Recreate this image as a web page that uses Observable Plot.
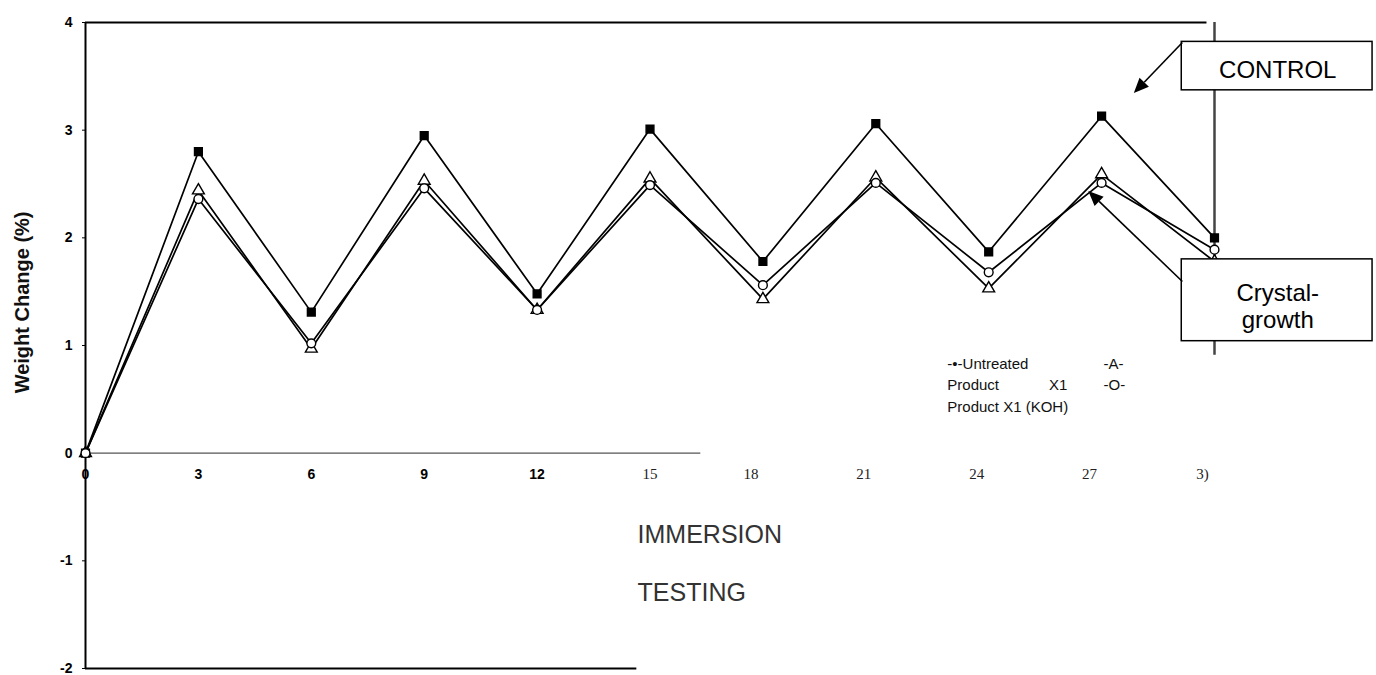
<!DOCTYPE html>
<html><head><meta charset="utf-8">
<script src="https://cdn.jsdelivr.net/npm/d3@7"></script>
<script src="https://cdn.jsdelivr.net/npm/@observablehq/plot@0.6"></script>
<style>
body{margin:0;background:#fff;}
#chart svg{display:block;}
</style></head><body><div id="chart"></div>
<script>
// ---- data ----
const days = [0, 3, 6, 9, 12, 15, 18, 21, 24, 27, 30];
const untreated    = [0, 2.80, 1.31, 2.95, 1.48, 3.01, 1.78, 3.06, 1.87, 3.13, 2.00];
const productX1    = [0, 2.44, 0.97, 2.53, 1.33, 2.55, 1.43, 2.56, 1.53, 2.59, 1.78];
const productX1KOH = [0, 2.36, 1.02, 2.46, 1.33, 2.49, 1.56, 2.51, 1.68, 2.51, 1.89];
const seriesNames = ["Untreated", "Product X1", "Product X1 (KOH)"];
const xTickLabels = ["0", "3", "6", "9", "12", "15", "18", "21", "24", "27", "3)"];
const yTicks = [-2, -1, 0, 1, 2, 3, 4];
const yLabel = "Weight Change (%)";
const legendLines = ["-\u2022-Untreated", "Product", "Product X1 (KOH)"];
const legendExtras = ["-A-", "X1", "-O-"];
const noteLines = ["IMMERSION", "TESTING"];
const callouts = ["CONTROL", "Crystal-", "growth"];

// ---- table for Plot ----
const seriesValues = [untreated, productX1, productX1KOH];
const rows = [];
seriesNames.forEach((s, i) => days.forEach((d, j) => rows.push({series: s, day: d, value: seriesValues[i][j]})));
const ticksTable = days.map((d, i) => ({day: d, label: xTickLabels[i]}));

const font = "'Liberation Sans', Arial, Helvetica, sans-serif";

// arrows with filled heads (annotation, in data units)
const arrows = [
  {x1: 29.16, y1: 3.81, x2: 27.87, y2: 3.34},
  {x1: 29.16, y1: 1.59, x2: 26.66, y2: 2.43}
];
function arrowMark(index, scales) {
  const g = d3.create("svg:g");
  for (const a of arrows) {
    const X1 = scales.x(a.x1), Y1 = scales.y(a.y1), X2 = scales.x(a.x2), Y2 = scales.y(a.y2);
    const ang = Math.atan2(Y2 - Y1, X2 - X1);
    const L = 15, W = 6.5;
    const bx = X2 - L * Math.cos(ang), by = Y2 - L * Math.sin(ang);
    g.append("line").attr("x1", X1).attr("y1", Y1).attr("x2", bx).attr("y2", by)
      .attr("stroke", "black").attr("stroke-width", 1.6);
    const px = -Math.sin(ang) * W, py = Math.cos(ang) * W;
    g.append("path").attr("d", `M${X2},${Y2}L${bx + px},${by + py}L${bx - px},${by - py}Z`).attr("fill", "black");
  }
  return g.node();
}

const chart = Plot.plot({
  width: 1376,
  height: 675,
  marginLeft: 85,
  marginRight: 162,
  marginTop: 22,
  marginBottom: 7,
  style: {fontFamily: font, background: "white", color: "black", overflow: "visible"},
  x: {domain: [0, 30], axis: null},
  y: {domain: [-2, 4], axis: null},
  symbol: {domain: seriesNames, range: ["square", "triangle", "circle"]},
  marks: [
    // frame pieces
    Plot.ruleX([0], {y1: -2, y2: 4, stroke: "black", strokeWidth: 2}),
    Plot.ruleY([4], {x1: 0, x2: 29.8, stroke: "black", strokeWidth: 2}),
    Plot.ruleX([30], {y1: 0.91, y2: 4, stroke: "#444", strokeWidth: 2.5}),
    Plot.ruleY([-2], {x1: 0, x2: 14.65, stroke: "black", strokeWidth: 2}),
    Plot.ruleY([0], {x1: 0, x2: 16.35, stroke: "#555", strokeWidth: 1.2}),
    // y axis
    Plot.axisY(yTicks, {anchor: "left", label: null, tickSize: 3, tickPadding: 10, fontSize: 14, fontWeight: "bold", tickFormat: d => String(d), stroke: "black"}),
    Plot.text([yLabel], {frameAnchor: "left", y: () => 1.4, dx: -63, rotate: -90, textAnchor: "middle", fontSize: 20, fontWeight: "bold", fill: "#111"}),
    // x tick labels
    Plot.text(ticksTable.filter(d => d.day <= 12), {x: "day", y: () => 0, text: "label", dy: 21, fontSize: 14, fontWeight: "bold"}),
    Plot.text(ticksTable.filter(d => d.day === 15), {x: "day", y: () => 0, text: "label", dy: 21, fontSize: 15, fontFamily: "'Liberation Serif', 'Times New Roman', serif", fill: "#222"}),
    Plot.text(ticksTable.filter(d => d.day > 15), {x: "day", y: () => 0, text: "label", dy: 21, dx: -12, fontSize: 15, fontFamily: "'Liberation Serif', 'Times New Roman', serif", fill: "#222"}),
    // series
    Plot.line(rows, {x: "day", y: "value", z: "series", stroke: "black", strokeWidth: 1.7}),
    Plot.dot(rows, {x: "day", y: "value", symbol: "series", r: 4.4, stroke: "black", strokeWidth: 1.4,
      fill: d => d.series === "Untreated" ? "black" : "white"}),
    // legend (in-plot text)
    Plot.text(legendLines, {x: () => 22.9, y: (d, i) => [0.83, 0.63, 0.43][i], text: d => d, textAnchor: "start", fontSize: 15, fill: "#111"}),
    Plot.text(legendExtras, {x: (d, i) => [27.05, 25.6, 27.05][i], y: (d, i) => [0.83, 0.63, 0.63][i], text: d => d, textAnchor: "start", fontSize: 15, fill: "#111"}),
    // IMMERSION TESTING
    Plot.text(noteLines, {x: () => 14.67, y: (d, i) => [-0.76, -1.30][i], text: d => d, textAnchor: "start", fontSize: 25, fill: "#333"}),
    // callout boxes
    Plot.rect([0, 1], {x1: () => 29.13, x2: () => 34.2, y1: (d, i) => [3.37, 1.04][i], y2: (d, i) => [3.82, 1.80][i], fill: "white", stroke: "black", strokeWidth: 1.5}),
    Plot.text(callouts, {x: () => 31.68, y: (d, i) => [3.48, 1.41, 1.165][i], text: d => d, lineAnchor: "bottom", fontSize: 24, fill: "black"}),
    arrowMark
  ]
});
document.getElementById("chart").append(chart);
</script>
</body></html>
